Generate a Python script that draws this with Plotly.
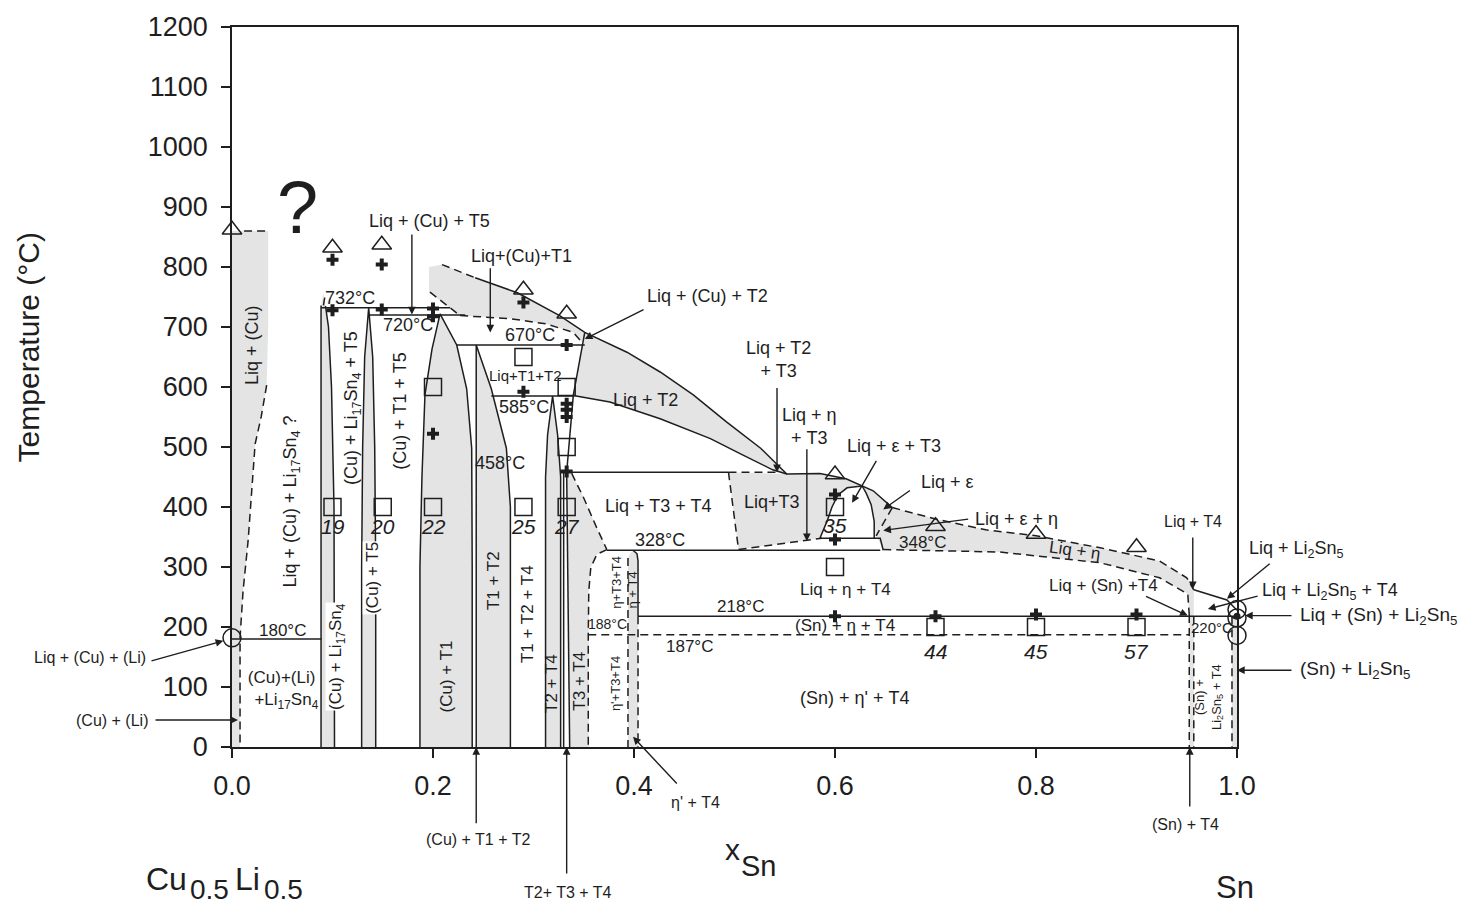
import plotly.graph_objects as go

FONT = "Liberation Sans, Arial, sans-serif"
GRAY = "#e4e4e4"
INK = "#1e1e1e"

# plot frame in pixels (used only to place free text / arrow tails outside the frame)
PLOT_W, PLOT_H = 1005, 724
T_MAX = 1200

# ---------------- axis ticks ----------------
x_ticks = [0.0, 0.2, 0.4, 0.6, 0.8, 1.0]
x_ticktext = ["0.0", "0.2", "0.4", "0.6", "0.8", "1.0"]
T_ticks = [0, 100, 200, 300, 400, 500, 600, 700, 800, 900, 1000, 1100, 1200]

# ---------------- shaded two-phase fields (x_Sn, T) ----------------
liqcu_x = [0, 0.036, 0.036, 0.0345, 0.029, 0.023, 0.016, 0.011, 0.008, 0.008, 0]
liqcu_T = [860, 860, 700, 603, 550, 505, 343, 260, 182, 0, 0]
culi17_x = [0.0886, 0.0886, 0.091, 0.093, 0.096, 0.099, 0.1015, 0.102]
culi17_T = [0, 736, 757, 735, 700, 600, 400, 0]
cut5_x = [0.129, 0.129, 0.130, 0.132, 0.136, 0.140, 0.142, 0.143, 0.143]
cut5_T = [0, 300, 500, 650, 732, 650, 500, 300, 0]
cut1_x = [0.187, 0.187, 0.189, 0.192, 0.199, 0.207, 0.2236, 0.2335, 0.2385, 0.239, 0.239]
cut1_T = [0, 300, 450, 587, 663, 722, 670, 597, 498, 300, 0]
t1t2_x = [0.243, 0.243, 0.258, 0.273, 0.277, 0.277]
t1t2_T = [0, 670, 597, 498, 400, 0]
t2t4_x = [0.312, 0.312, 0.314, 0.319, 0.324, 0.327, 0.327]
t2t4_T = [0, 450, 520, 585, 520, 450, 0]
t3t4_x = [0.336, 0.333, 0.338, 0.35, 0.363, 0.373, 0.363, 0.357, 0.355, 0.355]
t3t4_T = [0, 458, 456, 415, 365, 329, 321, 299, 260, 0]
etat4_x = [0.394, 0.394, 0.397, 0.400, 0.403, 0.404, 0.404]
etat4_T = [0, 315, 325, 328, 322, 310, 0]
liqcu2_x = [0.196, 0.209, 0.242, 0.284, 0.326, 0.351, 0.348, 0.3396, 0.3131, 0.2766, 0.227, 0.196]
liqcu2_T = [800, 804, 782, 757, 719, 691, 675, 691, 705, 714, 719, 758]
liqt2_x = [0.351, 0.393, 0.426, 0.459, 0.492, 0.526, 0.552, 0.538, 0.508, 0.476, 0.426, 0.376, 0.3396]
liqt2_T = [691, 658, 625, 587, 542, 498, 455, 462, 487, 514, 547, 575, 586]
liqt3_x = [0.494, 0.552, 0.585, 0.611, 0.625, 0.612, 0.603, 0.597, 0.592, 0.585, 0.572, 0.504]
liqt3_T = [458, 455, 456, 447, 436, 432, 420, 400, 376, 348, 345, 329]
liqeps_x = [0.627, 0.638, 0.657, 0.641, 0.639, 0.639, 0.636, 0.631]
liqeps_T = [435, 427, 399, 352, 348, 376, 404, 423]
liqeta_x = [0.657, 0.70, 0.75, 0.80, 0.864, 0.923, 0.95, 0.957, 0.957, 0.9525, 0.9525, 0.951,
            0.923, 0.864, 0.764, 0.70, 0.648, 0.641]
liqeta_T = [399, 380, 362, 352, 332, 310, 282, 262, 0, 0, 220, 255, 282, 307, 325, 327, 329, 352]
snband_x = [0.995, 0.995, 1.0, 1.0]
snband_T = [0, 218, 218, 0]

# ---------------- solid boundaries ----------------
l180_x, l180_T = [0, 0.089], [180, 180]
li17l_x, li17l_T = [0.0886, 0.0886], [0, 736]
li17r_x, li17r_T = [0.102, 0.1015, 0.099, 0.096, 0.093], [0, 400, 600, 700, 735]
l243_x, l243_T = [0.243, 0.243], [0, 670]
t1t2r_x, t1t2r_T = [0.243, 0.258, 0.273, 0.277, 0.277], [670, 597, 498, 400, 0]
l330_x, l330_T = [0.330, 0.330], [0, 458]
l336_x, l336_T = [0.333, 0.336], [458, 0]
lt2t4_x, lt2t4_T = [0.3396, 0.333], [586, 458]
l732_x, l732_T = [0.0886, 0.217], [732, 732]
l720_x, l720_T = [0.137, 0.232], [720, 720]
l670_x, l670_T = [0.2236, 0.351], [670, 670]
l585_x, l585_T = [0.258, 0.3396], [585, 585]
liqt2l_x, liqt2l_T = [0.351, 0.3396], [691, 586]
liquidus_x = [0.242, 0.284, 0.326, 0.351, 0.393, 0.426, 0.459, 0.492, 0.526, 0.552, 0.585, 0.611, 0.638, 0.657]
liquidus_T = [782, 757, 719, 691, 658, 625, 587, 542, 498, 455, 456, 447, 427, 399]
liqt2low_x = [0.3396, 0.376, 0.426, 0.476, 0.508, 0.538, 0.552]
liqt2low_T = [586, 575, 547, 514, 487, 462, 455]
l458_x, l458_T = [0.333, 0.494], [458, 458]
l328_x, l328_T = [0.373, 0.645], [328, 328]
l348_x, l348_T = [0.585, 0.645, 0.648], [348, 348, 328]
epsl_x = [0.585, 0.592, 0.597, 0.603, 0.612, 0.627]
epsl_T = [348, 376, 400, 420, 432, 435]
epsr_x = [0.627, 0.631, 0.636, 0.639, 0.639]
epsr_T = [435, 423, 404, 376, 348]
etar_x, etar_T = [0.399, 0.403, 0.404, 0.404], [328, 322, 310, 218]
l218_x, l218_T = [0.404, 1.0], [218, 218]
snliq_x, snliq_T = [0.957, 0.99, 1.0], [262, 245, 228]

# ---------------- dashed boundaries ----------------
d_liqcutop_x, d_liqcutop_T = [0.012, 0.036], [860, 860]
d_liqcu_x = [0.0345, 0.029, 0.023, 0.016, 0.011, 0.008, 0.008]
d_liqcu_T = [603, 550, 505, 343, 260, 182, 0]
d_li17_x, d_li17_T = [0.091, 0.093], [736, 757]
d_up_x, d_up_T = [0.209, 0.242], [804, 782]
d_low1_x, d_low1_T = [0.197, 0.227], [758, 719]
d_low2_x = [0.227, 0.2766, 0.3131, 0.3396, 0.348]
d_low2_T = [719, 714, 705, 691, 675]
d_458_x, d_458_T = [0.494, 0.545], [458, 458]
d_t3l_x, d_t3l_T = [0.494, 0.504], [458, 329]
d_t3b_x, d_t3b_T = [0.504, 0.572, 0.587], [329, 345, 348]
d_eps_x, d_eps_T = [0.657, 0.641], [399, 352]
d_etau_x = [0.657, 0.70, 0.75, 0.80, 0.864, 0.923, 0.95, 0.957]
d_etau_T = [399, 380, 362, 352, 332, 310, 282, 262]
d_etal_x = [0.648, 0.70, 0.764, 0.864, 0.923, 0.951, 0.9525]
d_etal_T = [329, 327, 325, 307, 282, 255, 220]
d_t3t4_x, d_t3t4_T = [0.338, 0.35, 0.363, 0.373], [456, 415, 365, 329]
d_etap_x = [0.373, 0.363, 0.357, 0.355, 0.3545, 0.3545]
d_etap_T = [329, 321, 299, 260, 187, 0]
d_187_x, d_187_T = [0.3545, 0.9525], [187, 187]
d_etal2_x, d_etal2_T = [0.394, 0.394], [315, 0]
d_etar2_x, d_etar2_T = [0.404, 0.404], [218, 0]
d_snt4a_x, d_snt4a_T = [0.9525, 0.9525], [220, 0]
d_snt4b_x, d_snt4b_T = [0.957, 0.957], [218, 0]
d_right_x, d_right_T = [0.995, 0.995], [218, 0]

# ---------------- experimental points ----------------
tri_x = [0, 0.1, 0.149, 0.29, 0.333, 0.6, 0.7, 0.8, 0.9]
tri_T = [862, 832, 837, 762, 722, 454, 368, 355, 333]
cross_x = [0.1, 0.149, 0.1, 0.149, 0.2, 0.2, 0.2, 0.29, 0.29, 0.333, 0.333, 0.333, 0.333, 0.333,
           0.6, 0.6, 0.6, 0.7, 0.8, 0.9]
cross_T = [812, 804, 728, 729, 731, 718, 522, 741, 592, 670, 572, 562, 550, 459,
           421, 346, 218, 218, 221, 221]
sq_x = [0.1, 0.15, 0.2, 0.2, 0.29, 0.29, 0.333, 0.333, 0.333, 0.6, 0.6, 0.7, 0.8, 0.9]
sq_T = [400, 400, 400, 600, 400, 650, 400, 600, 500, 400, 300, 200, 200, 200]
circ_x = [0, 1, 1, 1]
circ_T = [182, 229, 215, 186]
dot_x, dot_T = [1], [218]
sample_names = ["19", "20", "22", "25", "27", "35", "44", "45", "57"]
sample_x = [0.1, 0.15, 0.2, 0.29, 0.333, 0.6, 0.7, 0.8, 0.9]
sample_T = [368, 368, 368, 368, 368, 370, 160, 160, 160]

# ---------------- arrows (tail -> head), data coordinates ----------------
arr_x0 = [0.179, 0.257, 0.411, 0.5423, 0.572, 0.642, 0.676, 0.734, 0.956, 0.908, 1.034, 1.022,
          1.0557, 1.0557, -0.0816, -0.0776, 0.243, 0.333, 0.444, 0.953]
arr_T0 = [856, 800, 730, 600, 498, 479, 429, 380, 351, 252, 307, 252,
          219, 128, 143, 45, -129, -212, -63, -101]
arr_x1 = [0.179, 0.257, 0.351, 0.5423, 0.572, 0.617, 0.648, 0.648, 0.956, 0.951, 0.99, 0.971,
          1.0, 1.0, 0.0, 0.006, 0.243, 0.333, 0.399, 0.953]
arr_T1 = [721, 691, 680, 458, 343, 407, 396, 361, 263, 219, 247, 230,
          219, 128, 181, 45, 0, 0, 17, 0]
arr_standoff = [0, 0, 0, 0, 0, 0, 0, 0, 0, 0, 0, 0, 8, 0, 9, 0, 0, 0, 0, 0]

# ---------------- horizontal labels inside the frame ----------------
lab_text = ["Liq + (Cu) + T5", "Liq+(Cu)+T1", "Liq + (Cu) + T2", "732°C", "720°C", "670°C",
            "Liq+T1+T2", "585°C", "Liq + T2", "Liq + T2<br>+ T3", "Liq + η<br>+ T3",
            "Liq + ε + T3", "Liq + ε", "Liq + ε + η", "458°C", "Liq + T3 + T4", "Liq+T3",
            "348°C", "328°C", "Liq + η + T4", "218°C", "(Sn) + η + T4", "187°C",
            "(Sn) + η' + T4", "180°C", "(Cu)+(Li)<br>  +Li<sub>17</sub>Sn<sub>4</sub>", "188°C",
            "220°C", "Liq + T4", "Liq + (Sn) +T4"]
lab_x = [0.197, 0.2876, 0.4736, 0.1174, 0.1751, 0.2965, 0.2925, 0.2905, 0.411, 0.5433, 0.575,
         0.6587, 0.7124, 0.781, 0.2667, 0.4239, 0.5373, 0.6866, 0.4259, 0.61, 0.5055, 0.61,
         0.4557, 0.62, 0.0498, 0.0498, 0.374, 0.975, 0.956, 0.8667]
lab_T = [877, 819, 752, 749, 703, 686, 620, 567, 578, 646, 534, 501, 441, 380, 474, 401, 409,
         341, 345, 263, 235, 202, 167, 81, 194, 95, 205, 199, 376, 270]
lab_size = [18, 18, 18, 18, 18, 18, 15, 18, 18, 18, 18, 18, 18, 18, 18, 18, 18,
            17, 18, 17, 17, 17, 17, 18, 17, 17, 14, 15, 16, 17]

# ---------------- labels outside the frame (x_Sn, T and anchor) ----------------
out_text = ["Liq + Li<sub>2</sub>Sn<sub>5</sub>", "Liq + Li<sub>2</sub>Sn<sub>5</sub> + T4",
            "Liq + (Sn) + Li<sub>2</sub>Sn<sub>5</sub>", "(Sn) + Li<sub>2</sub>Sn<sub>5</sub>",
            "Liq + (Cu) + (Li)", "(Cu) + (Li)", "(Cu) + T1 + T2", "T2+ T3 + T4", "η' + T4",
            "(Sn) + T4"]
out_x = [1.010, 1.0229, 1.0607, 1.0607, -0.0836, -0.0816, 0.2448, 0.3343, 0.4607, 0.9483]
out_T = [330, 259, 219, 128, 149, 45, -154, -242, -93, -129]
out_anchor = ["left", "left", "left", "left", "right", "right", "center", "center", "center", "center"]
out_size = [18, 18, 19, 19, 16, 16, 16, 16, 16, 16]

# ---------------- rotated labels ----------------
rot_text = ["Liq + (Cu)", "Liq + (Cu) + Li<sub>17</sub>Sn<sub>4</sub> ?",
            "(Cu) + Li<sub>17</sub>Sn<sub>4</sub> + T5", "(Cu) + T1 + T5",
            "(Cu) + Li<sub>17</sub>Sn<sub>4</sub>", "(Cu) + T5", "(Cu) + T1", "T1 + T2",
            "T1 + T2 + T4", "T2 + T4", "T3 + T4", "η+T3+T4", "η + T4", "η'+T3+T4",
            "(Sn) +<br>Li<sub>2</sub>Sn<sub>5</sub> + T4"]
rot_x = [0.0199, 0.0597, 0.1194, 0.1672, 0.1045, 0.1403, 0.2136, 0.2600, 0.2948, 0.318,
         0.3463, 0.3818, 0.3987, 0.3818, 0.972]
rot_T = [670, 409, 565, 559, 150, 282, 117, 277, 222, 106, 109, 275, 262, 106, 83]
rot_size = [18, 18, 18, 18, 17, 17, 17, 17, 17, 17, 17, 13, 13, 13, 13]
rot_bg = [False, False, False, False, True, True, False, False, False, False, False, False,
          False, False, False]

fig = go.Figure()


def poly(xs, ts):
    fig.add_trace(go.Scatter(x=xs, y=ts, mode="lines", fill="toself", fillcolor=GRAY,
                             line=dict(width=0), hoverinfo="skip"))


def line(xs, ts, dash=None):
    fig.add_trace(go.Scatter(x=xs, y=ts, mode="lines",
                             line=dict(color=INK, width=1.5, dash=dash), hoverinfo="skip"))


for xs, ts in [(liqcu_x, liqcu_T), (culi17_x, culi17_T), (cut5_x, cut5_T), (cut1_x, cut1_T),
               (t1t2_x, t1t2_T), (t2t4_x, t2t4_T), (t3t4_x, t3t4_T), (etat4_x, etat4_T),
               (liqcu2_x, liqcu2_T), (liqt2_x, liqt2_T), (liqt3_x, liqt3_T),
               (liqeps_x, liqeps_T), (liqeta_x, liqeta_T), (snband_x, snband_T)]:
    poly(xs, ts)

for xs, ts in [(l180_x, l180_T), (li17l_x, li17l_T), (li17r_x, li17r_T), (cut5_x, cut5_T),
               (cut1_x, cut1_T), (l243_x, l243_T), (t1t2r_x, t1t2r_T), (t2t4_x, t2t4_T),
               (l330_x, l330_T), (l336_x, l336_T), (lt2t4_x, lt2t4_T), (l732_x, l732_T),
               (l720_x, l720_T), (l670_x, l670_T), (l585_x, l585_T), (liqt2l_x, liqt2l_T),
               (liquidus_x, liquidus_T), (liqt2low_x, liqt2low_T), (l458_x, l458_T),
               (l328_x, l328_T), (l348_x, l348_T), (epsl_x, epsl_T), (epsr_x, epsr_T),
               (etar_x, etar_T), (l218_x, l218_T), (snliq_x, snliq_T)]:
    line(xs, ts)

DASH = "8px,5px"
for xs, ts in [(d_liqcutop_x, d_liqcutop_T), (d_liqcu_x, d_liqcu_T), (d_li17_x, d_li17_T),
               (d_up_x, d_up_T), (d_low1_x, d_low1_T), (d_low2_x, d_low2_T),
               (d_458_x, d_458_T), (d_t3l_x, d_t3l_T), (d_t3b_x, d_t3b_T), (d_eps_x, d_eps_T),
               (d_etau_x, d_etau_T), (d_etal_x, d_etal_T), (d_t3t4_x, d_t3t4_T),
               (d_etap_x, d_etap_T), (d_187_x, d_187_T), (d_etal2_x, d_etal2_T),
               (d_etar2_x, d_etar2_T), (d_snt4a_x, d_snt4a_T), (d_snt4b_x, d_snt4b_T),
               (d_right_x, d_right_T)]:
    line(xs, ts, DASH)

fig.add_trace(go.Scatter(x=sq_x, y=sq_T, mode="markers", cliponaxis=False,
                         marker=dict(symbol="square-open", size=17, color=INK, line=dict(width=1.5))))
fig.add_trace(go.Scatter(x=tri_x, y=tri_T, mode="markers", cliponaxis=False,
                         marker=dict(symbol="triangle-up-open", size=17, color=INK, line=dict(width=1.5))))
fig.add_trace(go.Scatter(x=cross_x, y=cross_T, mode="markers", cliponaxis=False,
                         marker=dict(symbol="cross", size=10, color=INK, line=dict(width=0))))
fig.add_trace(go.Scatter(x=circ_x, y=circ_T, mode="markers", cliponaxis=False,
                         marker=dict(symbol="circle-open", size=18, color=INK, line=dict(width=1.5))))
fig.add_trace(go.Scatter(x=dot_x, y=dot_T, mode="markers", cliponaxis=False,
                         marker=dict(symbol="circle", size=7, color=INK)))

ann = []
# arrows: head anchored in paper space (never hidden), tail as pixel offset from head
for x0, t0, x1, t1, so in zip(arr_x0, arr_T0, arr_x1, arr_T1, arr_standoff):
    ann.append(dict(x=x1, y=t1 / T_MAX, xref="paper", yref="paper",
                    ax=(x0 - x1) * PLOT_W, ay=-(t0 - t1) / T_MAX * PLOT_H,
                    text="", showarrow=True, arrowhead=2, arrowsize=1.1, arrowwidth=1.4,
                    arrowcolor=INK, standoff=so, startstandoff=0))

for s, x, t in zip(sample_names, sample_x, sample_T):
    ann.append(dict(x=x, y=t, xref="x", yref="y", text="<i>" + s + "</i>", showarrow=False,
                    font=dict(family=FONT, size=21, color=INK)))

for s, x, t, sz in zip(lab_text, lab_x, lab_T, lab_size):
    ann.append(dict(x=x, y=t, xref="x", yref="y", text=s, showarrow=False,
                    xanchor="center", yanchor="middle",
                    font=dict(family=FONT, size=sz, color=INK)))

for s, x, t, a, sz in zip(out_text, out_x, out_T, out_anchor, out_size):
    ann.append(dict(x=x, y=t / T_MAX, xref="paper", yref="paper", text=s, showarrow=False,
                    xanchor=a, yanchor="middle", font=dict(family=FONT, size=sz, color=INK)))

for s, x, t, sz, bg in zip(rot_text, rot_x, rot_T, rot_size, rot_bg):
    ann.append(dict(x=x, y=t, xref="x", yref="y", text=s, showarrow=False, textangle=-90,
                    xanchor="center", yanchor="middle",
                    bgcolor="white" if bg else None, borderpad=0,
                    font=dict(family=FONT, size=sz, color=INK)))

# slanted label in the Liq + eta band
ann.append(dict(x=0.839, y=327, xref="x", yref="y", text="Liq + η", showarrow=False,
                textangle=8, font=dict(family=FONT, size=17, color=INK)))
# question mark
ann.append(dict(x=0.065, y=900, xref="x", yref="y", text="?", showarrow=False,
                font=dict(family=FONT, size=74, color=INK)))

# axis titles and end members (paper coordinates)
title_text = ["Temperature (°C)", "x", "Sn", "Cu", "0.5", "Li", "0.5", "Sn"]
title_x = [-0.203, 0.4985, 0.5234, -0.0647, -0.0219, 0.0159, 0.0517, 0.998]
title_y = [0.555, -0.1422, -0.1658, -0.1837, -0.1975, -0.1837, -0.1975, -0.1948]
title_size = [30, 30, 29, 32, 28, 32, 28, 31]
title_angle = [-90, 0, 0, 0, 0, 0, 0, 0]
for s, x, y, sz, ang in zip(title_text, title_x, title_y, title_size, title_angle):
    ann.append(dict(x=x, y=y, xref="paper", yref="paper", text=s, showarrow=False,
                    textangle=ang, xanchor="center", yanchor="middle",
                    font=dict(family=FONT, size=sz, color=INK)))

fig.update_layout(
    width=1468, height=907, margin=dict(l=232, r=231, t=23, b=160),
    plot_bgcolor="white", paper_bgcolor="white", showlegend=False,
    font=dict(family=FONT, color=INK), annotations=ann,
    xaxis=dict(range=[0, 1], tickvals=x_ticks, ticktext=x_ticktext, ticks="outside",
               ticklen=9, tickwidth=1.5, tickcolor=INK, showline=True, linewidth=1.5,
               linecolor=INK, mirror=True, showgrid=False, zeroline=False,
               tickfont=dict(size=27, family=FONT, color=INK), ticklabelstandoff=5),
    yaxis=dict(range=[0, T_MAX], tickvals=T_ticks, ticks="outside", ticklen=9, tickwidth=1.5,
               tickcolor=INK, showline=True, linewidth=1.5, linecolor=INK, mirror=True,
               showgrid=False, zeroline=False,
               tickfont=dict(size=27, family=FONT, color=INK), ticklabelstandoff=8),
)

fig.write_html("out.html")
